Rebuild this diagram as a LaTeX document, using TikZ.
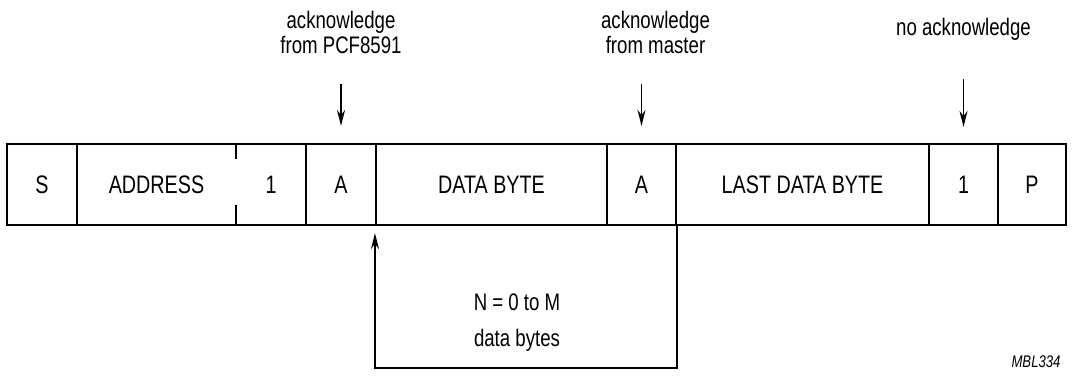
\documentclass[tikz,border=0pt]{standalone}
\usepackage{fontspec}
\setmainfont{Liberation Sans}[FakeStretch=0.78]
\usetikzlibrary{positioning,arrows.meta}
\begin{document}
\begin{tikzpicture}[
  field/.style={draw, line width=1.5pt, minimum height=2.025cm, inner sep=0pt, font=\fontsize{18}{20}\selectfont},
  bare/.style={minimum height=2.025cm, inner sep=0pt, font=\fontsize{18}{20}\selectfont},
  note/.style={align=center, inner sep=0pt, font=\fontsize{17}{18}\selectfont},
  ackarrow/.style={line width=1.3pt, -{Stealth[length=0.4cm,width=0.2cm]}}
]
\useasboundingbox (0,0) rectangle (26.8,9.525);
\node[field, minimum width=1.75cm] (s) at (1.05,4.9125) {S};
\node[bare, minimum width=3.975cm] (addr) at (3.9125,4.9125) {ADDRESS};
\node[bare, minimum width=1.75cm] (rw) at (6.775,4.9125) {1};
\node[field, minimum width=1.75cm] (a1) at (8.525,4.9125) {A};
\node[field, minimum width=5.775cm] (data) at (12.2875,4.9125) {DATA BYTE};
\node[field, minimum width=1.725cm] (a2) at (16.0375,4.9125) {A};
\node[field, minimum width=6.325cm] (last) at (20.0625,4.9125) {LAST DATA BYTE};
\node[field, minimum width=1.725cm] (na) at (24.0875,4.9125) {1};
\node[field, minimum width=1.7cm] (p) at (25.8,4.9125) {P};
\draw[line width=1.5pt] (addr.north west) rectangle (rw.south east);
\draw[line width=1.5pt] (addr.north east) -- ++(0,-0.375);
\draw[line width=1.5pt] (addr.south east) -- ++(0,0.5);
\coordinate (t1) at ([yshift=1.475cm]a1.north);
\coordinate (t2) at ([yshift=1.475cm]a2.north);
\coordinate (t3) at ([yshift=1.6cm]na.north);
\node[note, above=0.75cm of t1] (ack1) {acknowledge\\from PCF8591};
\node[note, above=0.75cm of t2, xshift=0.35cm] (ack2) {acknowledge\\from master};
\node[note, above=0.95cm of t3] (nack) {no acknowledge};
\draw[ackarrow] (t1) -- ([yshift=0.425cm]a1.north);
\draw[ackarrow] (t2) -- ([yshift=0.425cm]a2.north);
\draw[ackarrow] (t3) -- ([yshift=0.4cm]na.north);
\draw[ackarrow] (a2.south east) -- ++(0,-3.55) -| ([yshift=-0.175cm]data.south west);
\node[note, font=\fontsize{17}{25}\selectfont] (count) at (12.925,1.46) {N = 0 to M\\data bytes};
\node[font=\fontsize{12}{14}\selectfont\itshape] (code) at (25.9,0.475) {MBL334};
\end{tikzpicture}
\end{document}
